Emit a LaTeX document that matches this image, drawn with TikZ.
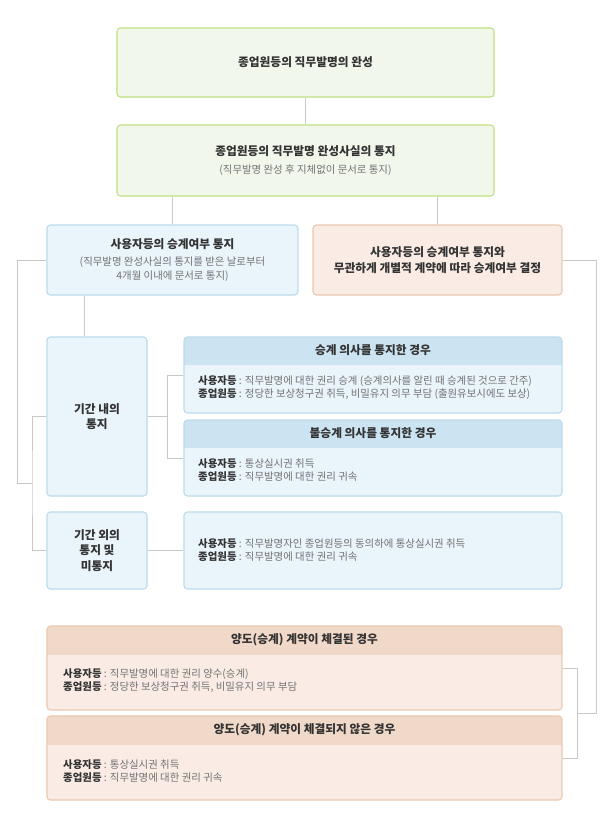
\documentclass[tikz,border=0pt]{standalone}
\usepackage{fontspec}
\setmainfont{Noto Sans CJK KR}
\usepackage{tikz}
\usetikzlibrary{positioning, calc}
\usepackage{xcolor}
\definecolor{leafline}{RGB}{192, 223, 128}
\definecolor{leaffill}{RGB}{242, 247, 236}
\definecolor{skyline}{RGB}{188, 218, 236}
\definecolor{skyfill}{RGB}{234, 244, 251}
\definecolor{skyhead}{RGB}{204, 227, 242}
\definecolor{peachline}{RGB}{234, 200, 176}
\definecolor{peachfill}{RGB}{250, 236, 228}
\definecolor{peachhead}{RGB}{241, 217, 201}
\definecolor{wiregray}{RGB}{200, 200, 200}
\definecolor{inkdark}{RGB}{51, 51, 51}
\definecolor{inkgray}{RGB}{115, 115, 115}
\newcommand{\partyname}[1]{{\bfseries\color{inkdark}#1}}
\newcommand{\subnote}[1]{{\mdseries\fontsize{8.9}{11}\selectfont\color{inkgray}#1}}
\tikzset{
  plainbox/.style={line width=0.9pt, rounded corners=1mm, align=center, text=inkdark,
    font=\bfseries\fontsize{10}{13}\selectfont},
  greenbox/.style={plainbox, draw=leafline, fill=leaffill},
  bluebox/.style={plainbox, draw=skyline, fill=skyfill},
  peachbox/.style={plainbox, draw=peachline, fill=peachfill},
  skycase/.style={bluebox, path picture={\fill[skyhead, sharp corners]
    (path picture bounding box.north west) rectangle ([yshift=-8.4mm]path picture bounding box.north east);}},
  peachcase/.style={peachbox, path picture={\fill[peachhead, sharp corners]
    (path picture bounding box.north west) rectangle ([yshift=-8.7mm]path picture bounding box.north east);}},
  headtext/.style={text=inkdark, font=\bfseries\fontsize{10}{12}\selectfont},
  bodytext/.style={anchor=west, align=left, inner sep=0pt, text=inkgray,
    font=\fontsize{8.9}{11.1}\selectfont},
  wire/.style={draw=wiregray, line width=0.8pt}
}

\begin{document}
\begin{tikzpicture}[x=0.3mm, y=-0.3mm]
  \useasboundingbox (0,0) rectangle (602,819);
  % top of the flow
  \node[greenbox, minimum width=113.1mm, minimum height=20.7mm] (done) at (305.5,62.5)
    {종업원등의 직무발명의 완성};
  \node[greenbox, minimum width=113.1mm, minimum height=21.3mm] (notice) at (305.5,160.5)
    {종업원등의 직무발명 완성사실의 통지\\[2pt]\subnote{(직무발명 완성 후 지체없이 문서로 통지)}};
  \node[bluebox, minimum width=75.3mm, minimum height=21mm] (ask) at (172.5,260)
    {사용자등의 승계여부 통지\\[1.5pt]\subnote{(직무발명 완성사실의 통지를 받은 날로부터}\\[-1.5pt]\subnote{4개월 이내에 문서로 통지)}};
  \node[peachbox, minimum width=74.7mm, minimum height=21mm] (indep) at (437.5,260)
    {사용자등의 승계여부 통지와\\무관하게 개별적 계약에 따라 승계여부 결정};

  % notice within / outside the period
  \node[bluebox, minimum width=30mm, minimum height=47.7mm] (inper) at (97,416.5)
    {기간 내의\\통지};
  \node[bluebox, minimum width=30mm, minimum height=23.1mm] (outper) at (97,550.5)
    {기간 외의\\통지 및\\미통지};

  \node[skycase, minimum width=113.4mm, minimum height=22.8mm] (yes) at (373,375) {};
  \node[headtext] (yestitle) at ([yshift=-4.2mm]yes.north) {승계 의사를 통지한 경우};
  \node[bodytext] (yesbody) at (198,387.5)
    {\partyname{사용자등} : 직무발명에 대한 권리 승계 (승계의사를 알린 때 승계된 것으로 간주)\\
     \partyname{종업원등} : 정당한 보상청구권 취득, 비밀유지 의무 부담 (출원유보시에도 보상)};

  \node[skycase, minimum width=113.4mm, minimum height=22.8mm] (no) at (373,458) {};
  \node[headtext] (notitle) at ([yshift=-4.2mm]no.north) {불승계 의사를 통지한 경우};
  \node[bodytext] (nobody) at (198,470.5)
    {\partyname{사용자등} : 통상실시권 취득\\
     \partyname{종업원등} : 직무발명에 대한 권리 귀속};

  \node[bluebox, minimum width=113.4mm, minimum height=23.1mm] (outres) at (373,550.5) {};
  \node[bodytext] (outbody) at (198,550)
    {\partyname{사용자등} : 직무발명자인 종업원등의 동의하에 통상실시권 취득\\
     \partyname{종업원등} : 직무발명에 대한 권리 귀속};

  % separate contract
  \node[peachcase, minimum width=154.5mm, minimum height=25.2mm] (contract) at (304.5,668) {};
  \node[headtext] (contracttitle) at ([yshift=-4.35mm]contract.north) {양도(승계) 계약이 체결된 경우};
  \node[bodytext] (contractbody) at (63,681)
    {\partyname{사용자등} : 직무발명에 대한 권리 양수(승계)\\
     \partyname{종업원등} : 정당한 보상청구권 취득, 비밀유지 의무 부담};

  \node[peachcase, minimum width=154.5mm, minimum height=25.2mm] (nocontract) at (304.5,758) {};
  \node[headtext] (nocontracttitle) at ([yshift=-4.35mm]nocontract.north) {양도(승계) 계약이 체결되지 않은 경우};
  \node[bodytext] (nocontractbody) at (63,771)
    {\partyname{사용자등} : 통상실시권 취득\\
     \partyname{종업원등} : 직무발명에 대한 권리 귀속};

  % connectors
  \coordinate (lefttie) at (32,483.5);
  \coordinate (leftrail) at (17,483.5);
  \coordinate (midtie) at ([xshift=6mm]inper.east);
  \coordinate (righttie) at ([xshift=4.5mm]$(contract.east)!0.5!(nocontract.east)$);
  \coordinate (rightrail) at (righttie -| 596,0);

  \draw[wire] (done) -- (notice);
  \draw[wire] (ask.north) -- (ask.north |- notice.south);
  \draw[wire] (indep.north) -- (indep.north |- notice.south);
  \draw[wire] ([xshift=11.4mm]inper.north west) -- ([xshift=11.4mm]inper.north west |- ask.south);
  \draw[wire] (ask.west) -| (leftrail) -- (lefttie);
  \draw[wire] (inper.west) -| (lefttie) |- (outper.west);
  \draw[wire] (inper.east) -- (midtie);
  \draw[wire] (yes.west) -| (midtie) |- (no.west);
  \draw[wire] (outper) -- (outres);
  \draw[wire] (indep.east) -| (rightrail) -- (righttie);
  \draw[wire] (contract.east) -| (righttie) |- (nocontract.east);
\end{tikzpicture}
\end{document}
